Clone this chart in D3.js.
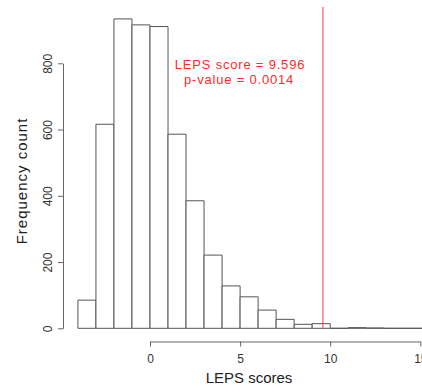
<!DOCTYPE html>
<html>
<head>
<meta charset="utf-8">
<script src="https://cdn.jsdelivr.net/npm/d3@7"></script>
<style>
  html, body { margin: 0; padding: 0; background: #fff; }
  svg { display: block; font-family: 'Liberation Sans', Arial, Helvetica, sans-serif; }
</style>
</head>
<body>
<svg id="chart"></svg>
<script>
// histogram bins (left edges) and counts
const binStarts = [-4, -3, -2, -1, 0, 1, 2, 3, 4, 5, 6, 7, 8, 9, 10, 11, 12, 13, 14, 15]
const counts = [85, 616, 934, 916, 911, 586, 385, 221, 128, 95, 55, 27, 12, 14, 0, 2, 1, 0, 0, 0]
const binWidth = 1
const xTicks = [0, 5, 10, 15]
const yTicks = [0, 200, 400, 600, 800]
const observed = 9.596
const pValue = '0.0014'

const width = 422
const height = 392
const plotTop = 7

const svg = d3.select('#chart').attr('width', width).attr('height', height)

const x = d3.scaleLinear().domain([0, 15]).range([150, 420.3])
const y = d3.scaleLinear().domain([0, 800]).range([328.3, 63.3])

// bars as closed paths so that empty bins still show as a flat line
const barPath = (d, i) => {
  const p = d3.path()
  p.rect(x(d), y(counts[i]), x(d + binWidth) - x(d), y(0) - y(counts[i]))
  return p.toString()
}

svg.append('g')
  .selectAll('path')
  .data(binStarts)
  .join('path')
  .attr('d', barPath)
  .attr('fill', '#fff')
  .attr('stroke', '#555')
  .attr('stroke-width', 1)

// x axis
const xAxis = svg.append('g')
  .attr('transform', 'translate(0,341.5)')
  .call(d3.axisBottom(x).tickValues(xTicks).tickSize(5).tickSizeOuter(0).tickPadding(8))
xAxis.select('.domain').attr('stroke', '#666')
xAxis.selectAll('.tick line').attr('stroke', '#666')
xAxis.selectAll('text').attr('font-size', 12).attr('fill', '#333')
  .attr('font-family', "'Liberation Sans', Arial, sans-serif")

// y axis with rotated labels
const yAxis = svg.append('g')
  .attr('transform', 'translate(63,0)')
  .call(d3.axisLeft(y).tickValues(yTicks).tickSize(5).tickSizeOuter(0))
yAxis.select('.domain').attr('stroke', '#666')
yAxis.selectAll('.tick line').attr('stroke', '#666')
yAxis.selectAll('text')
  .attr('x', 0)
  .attr('y', -11)
  .attr('dy', 0)
  .attr('transform', 'rotate(-90)')
  .attr('text-anchor', 'middle')
  .attr('font-size', 12)
  .attr('fill', '#333')
  .attr('font-family', "'Liberation Sans', Arial, sans-serif")

// axis titles
svg.append('text')
  .attr('x', 249)
  .attr('y', 383)
  .attr('text-anchor', 'middle')
  .attr('font-size', 15)
  .attr('fill', '#222')
  .text('LEPS scores')

svg.append('text')
  .attr('transform', 'translate(27,181) rotate(-90)')
  .attr('text-anchor', 'middle')
  .attr('font-size', 15)
  .attr('letter-spacing', 1)
  .attr('fill', '#222')
  .text('Frequency count')

// observed score line
svg.append('line')
  .attr('x1', x(observed))
  .attr('x2', x(observed))
  .attr('y1', plotTop)
  .attr('y2', y(0))
  .attr('stroke', '#ff3b3b')
  .attr('stroke-width', 1)

const note = svg.append('g')
  .attr('fill', '#ff2a2a')
  .attr('font-size', 13)
  .attr('letter-spacing', 0.8)
  .attr('text-anchor', 'middle')
note.append('text').attr('x', 240).attr('y', 69).text('LEPS score = ' + observed)
note.append('text').attr('x', 239).attr('y', 83.5).text('p-value = ' + pValue)
</script>
</body>
</html>
